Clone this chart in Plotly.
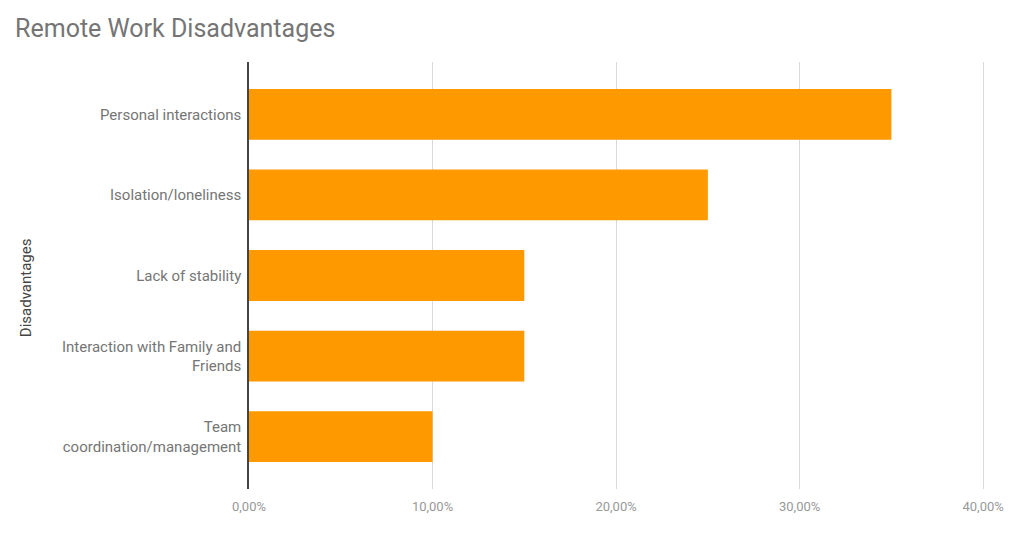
import plotly.graph_objects as go

# Remote work disadvantages, share of answers
categories = [
    "Personal interactions",
    "Isolation/loneliness",
    "Lack of stability",
    "Interaction with Family and<br>Friends",
    "Team<br>coordination/management",
]
shares = [0.35, 0.25, 0.15, 0.15, 0.10]
x_ticks = [0, 0.1, 0.2, 0.3, 0.4]

BAR_COLOR = "#ff9900"
TEXT_GRAY = "#757575"

fig = go.Figure(
    go.Bar(
        x=shares,
        y=categories,
        orientation="h",
        marker=dict(color=BAR_COLOR, line=dict(width=0)),
        width=0.63,
    )
)

# page body has an 8px margin on every side, so keep the figure inside the window
fig.update_layout(
    width=1008,
    height=518,
    margin=dict(l=241, r=15, t=54, b=36),
    paper_bgcolor="white",
    plot_bgcolor="white",
    separators=",.",
    font=dict(family="Roboto", size=15, color=TEXT_GRAY),
    showlegend=False,
    title=dict(
        text="Remote Work Disadvantages",
        x=0.007, xanchor="left",
        y=0.961, yanchor="middle",
        font=dict(family="Roboto", size=25, color=TEXT_GRAY),
    ),
    annotations=[
        dict(
            text="Disadvantages",
            xref="paper", yref="paper",
            x=-0.302, y=0.472,
            xanchor="center", yanchor="middle",
            textangle=-90,
            showarrow=False,
            font=dict(family="Roboto", size=15, color="#444444"),
        )
    ],
)

fig.update_xaxes(
    range=[0, 0.401],
    tickvals=x_ticks,
    tickformat=".2%",
    showgrid=True,
    gridcolor="#d9d9d9",
    gridwidth=1,
    zeroline=False,
    showline=False,
    tickfont=dict(size=13, color="#999999"),
    ticklabeloverflow="allow",
    ticks="",
    ticklabelstandoff=8,
    fixedrange=True,
)

fig.update_yaxes(
    range=[4.65, -0.65],
    showgrid=False,
    showline=True,
    linecolor="#444444",
    linewidth=1.5,
    ticks="outside",
    ticklen=3,
    tickcolor="rgba(0,0,0,0)",
    tickfont=dict(size=15, color=TEXT_GRAY),
    fixedrange=True,
)

fig.write_html("out.html")
